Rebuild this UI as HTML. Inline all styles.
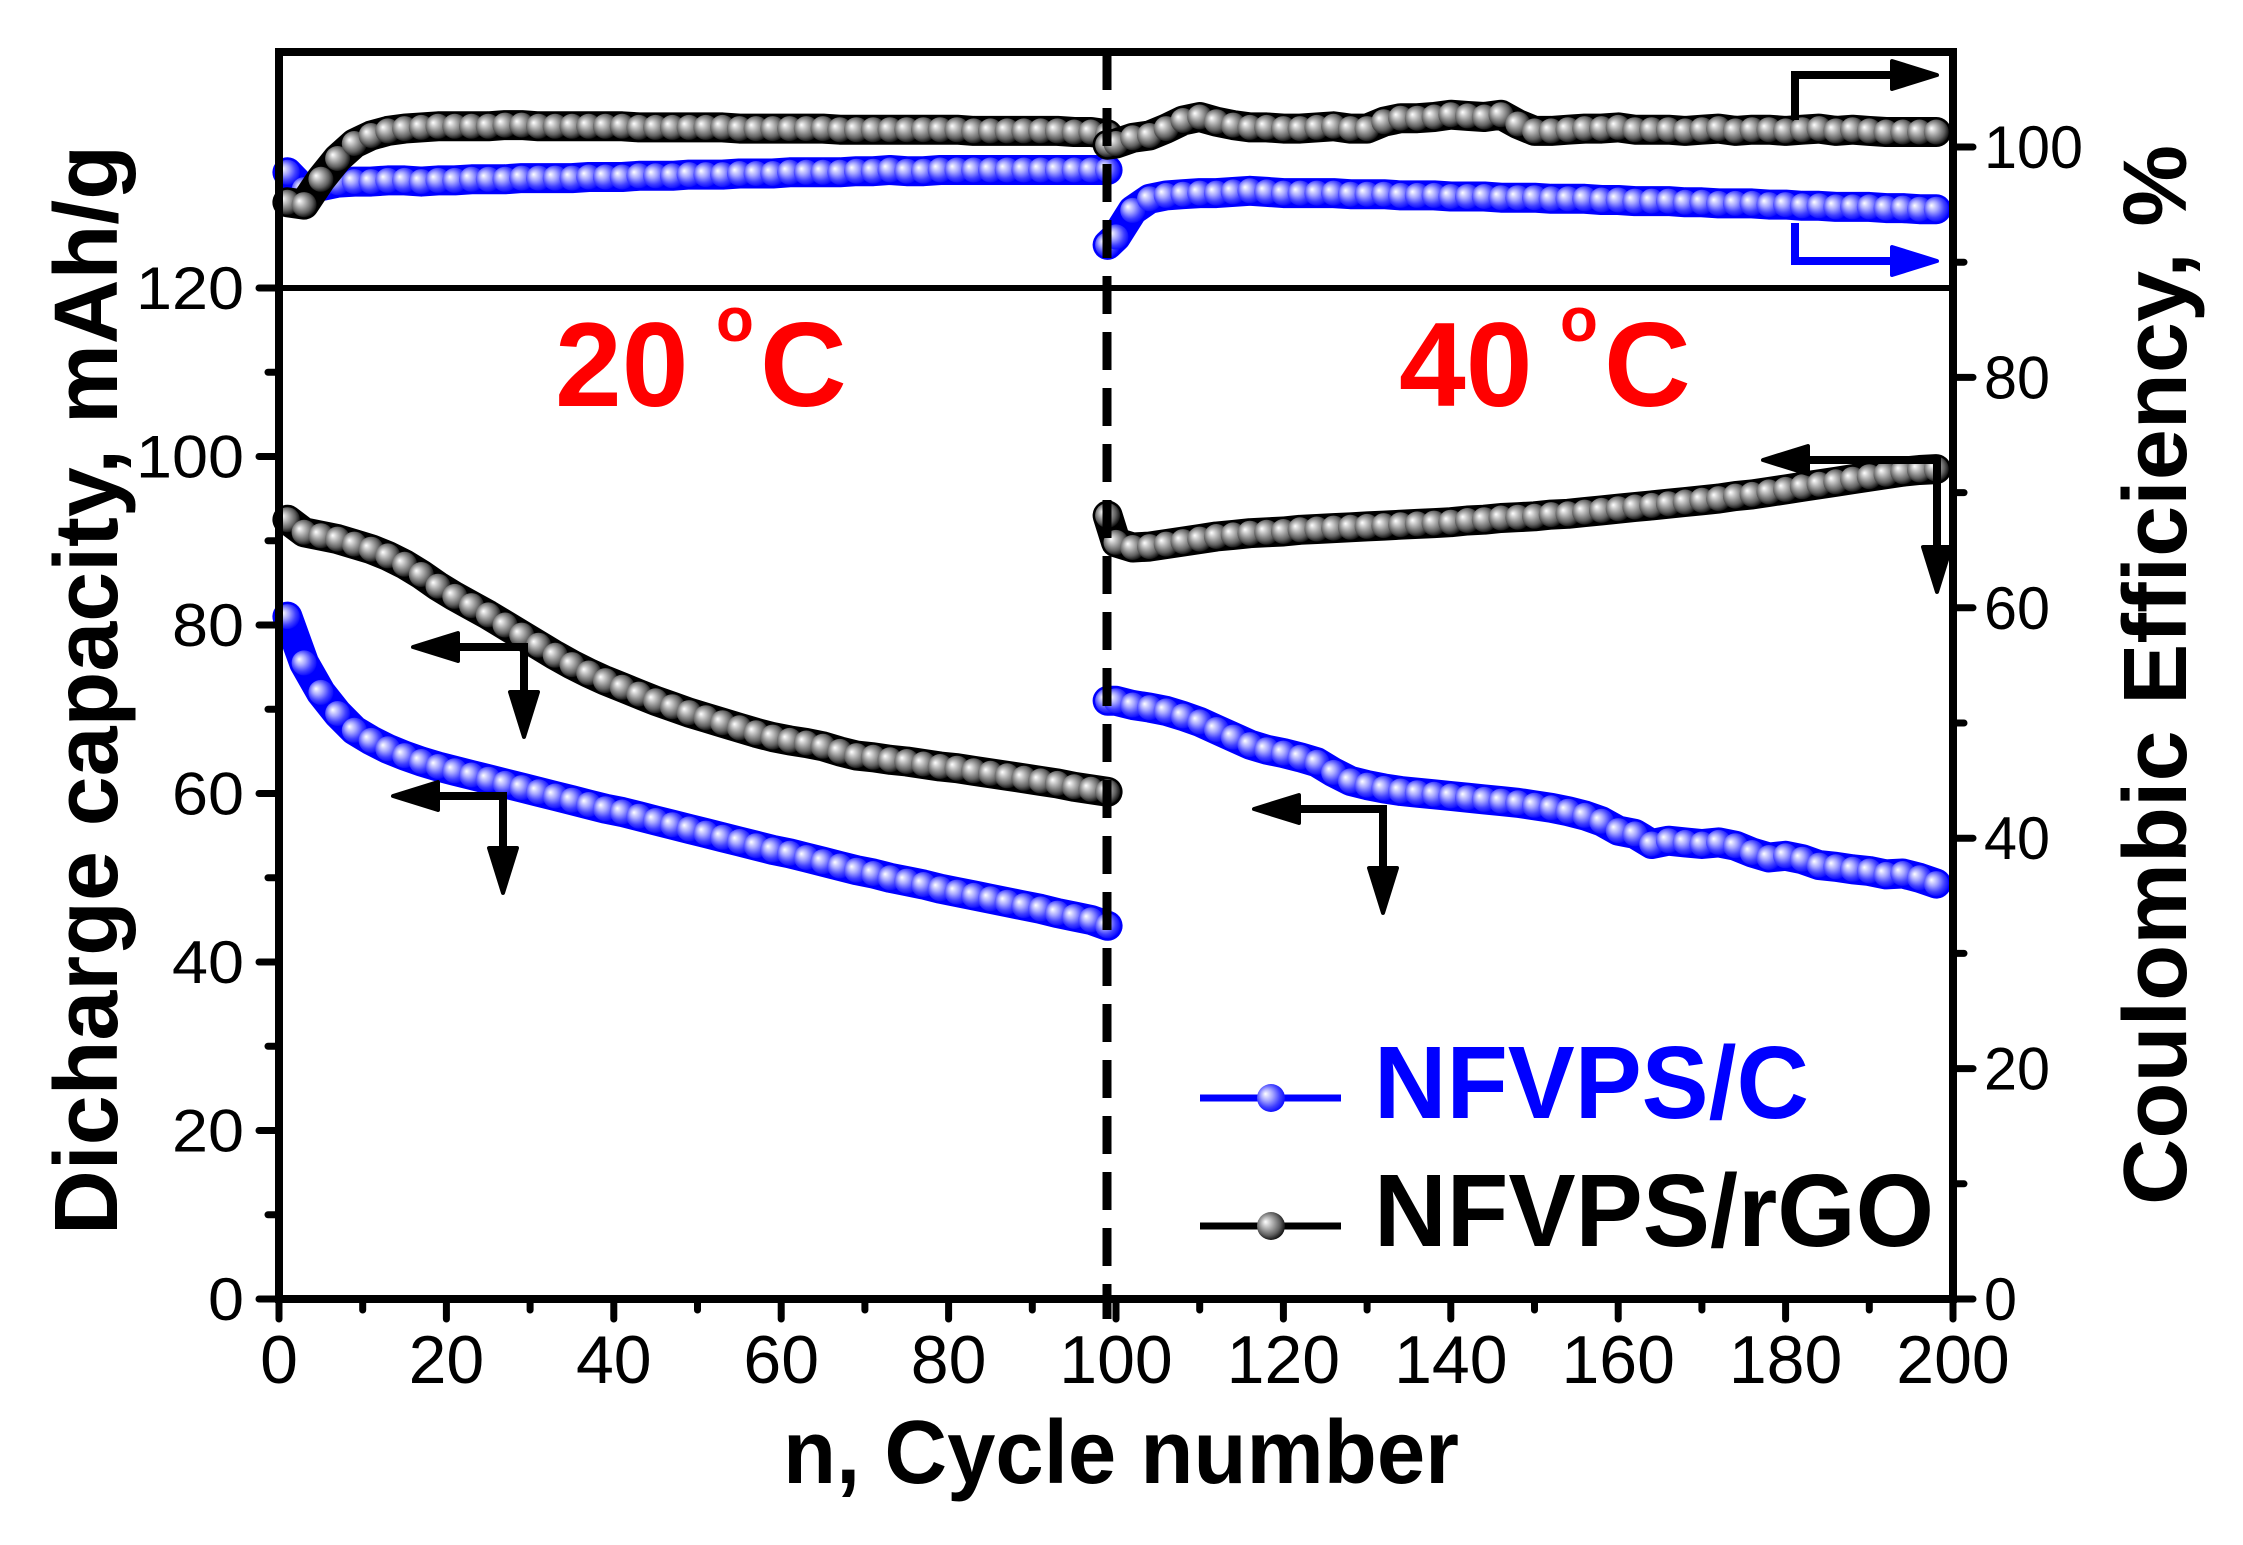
<!DOCTYPE html>
<html><head><meta charset="utf-8">
<style>
html,body{margin:0;padding:0;background:#fff;}
svg{display:block;}
text{font-family:"Liberation Sans",Arial,sans-serif;}
</style></head>
<body>
<svg id="chart" width="2243" height="1545" viewBox="0 0 2243 1545" xmlns="http://www.w3.org/2000/svg">
<defs>
  <radialGradient id="gBlk" cx="0.45" cy="0.45" r="0.6" fx="0.3" fy="0.35">
    <stop offset="0" stop-color="#ffffff"/>
    <stop offset="0.35" stop-color="#b0b0b0"/>
    <stop offset="0.7" stop-color="#606060"/>
    <stop offset="1" stop-color="#000000"/>
  </radialGradient>
  <radialGradient id="gBlu" cx="0.45" cy="0.45" r="0.6" fx="0.3" fy="0.35">
    <stop offset="0" stop-color="#ffffff"/>
    <stop offset="0.35" stop-color="#a8a8ff"/>
    <stop offset="0.7" stop-color="#4040ff"/>
    <stop offset="1" stop-color="#0000ff"/>
  </radialGradient>
</defs>
<g id="series"></g>
<g id="axes"></g>
<text x="555" y="406" font-size="120" font-weight="bold" fill="#ff0000">20</text>
<text x="716" y="341" font-size="62" font-weight="bold" fill="#ff0000">o</text>
<text x="760" y="406" font-size="120" font-weight="bold" fill="#ff0000">C</text>
<text x="1399" y="406" font-size="120" font-weight="bold" fill="#ff0000">40</text>
<text x="1560" y="341" font-size="62" font-weight="bold" fill="#ff0000">o</text>
<text x="1604" y="406" font-size="120" font-weight="bold" fill="#ff0000">C</text>
<text x="783" y="1483" font-size="90" font-weight="bold" textLength="676" lengthAdjust="spacingAndGlyphs">n, Cycle number</text>
<text transform="translate(117,1235) rotate(-90)" font-size="90" font-weight="bold" textLength="1090" lengthAdjust="spacingAndGlyphs">Dicharge capacity, mAh/g</text>
<text transform="translate(2186,1205) rotate(-90)" font-size="90" font-weight="bold" textLength="1060" lengthAdjust="spacingAndGlyphs">Coulombic Efficiency, %</text>
<g>
  <line x1="1200" y1="1098" x2="1341" y2="1098" stroke="#0000ff" stroke-width="7"/>
  <circle cx="1271" cy="1098" r="14" fill="url(#gBlu)"/>
  <text x="1374" y="1118" font-size="103" font-weight="bold" fill="#0000ff" textLength="435" lengthAdjust="spacingAndGlyphs">NFVPS/C</text>
  <line x1="1200" y1="1226" x2="1341" y2="1226" stroke="#000" stroke-width="7"/>
  <circle cx="1271" cy="1226" r="14" fill="url(#gBlk)"/>
  <text x="1374" y="1246" font-size="103" font-weight="bold" fill="#000" textLength="560" lengthAdjust="spacingAndGlyphs">NFVPS/rGO</text>
</g>
<g id="arrows"></g>
</svg>
<script>
// ---- data ----
const cycles20 = [1,3,5,7,9,11,13,15,17,19,21,23,25,27,29,31,33,35,37,39,41,43,45,47,49,51,53,55,57,59,61,63,65,67,69,71,73,75,77,79,81,83,85,87,89,91,93,95,97,99];
const cycles40 = [99,100,102,104,106,108,110,112,114,116,118,120,122,124,126,128,130,132,134,136,138,140,142,144,146,148,150,152,154,156,158,160,162,164,166,168,170,172,174,176,178,180,182,184,186,188,190,192,194,196,198];
const capC20 = [81,75.5,72,69.5,67.5,66.3,65.3,64.5,63.8,63.2,62.7,62.2,61.7,61.2,60.7,60.2,59.7,59.2,58.7,58.2,57.8,57.3,56.8,56.3,55.8,55.3,54.8,54.3,53.8,53.3,52.9,52.4,51.9,51.4,50.9,50.5,50.0,49.6,49.2,48.7,48.3,47.9,47.5,47.1,46.7,46.3,45.8,45.4,45.0,44.3];
const capR20 = [92.5,91,90.6,90.2,89.6,89,88.2,87.2,86,84.6,83.4,82.3,81.2,80,78.8,77.6,76.4,75.3,74.3,73.4,72.6,71.8,71,70.3,69.6,69,68.4,67.8,67.2,66.7,66.3,66,65.6,65,64.5,64.3,64,63.8,63.5,63.2,63,62.7,62.4,62.1,61.8,61.5,61.2,60.8,60.5,60.2];
const ceC20 = [97.8,96.3,96.6,96.9,97.0,97.0,97.1,97.1,97.0,97.1,97.1,97.2,97.2,97.2,97.3,97.3,97.3,97.3,97.4,97.4,97.4,97.5,97.5,97.5,97.6,97.6,97.6,97.7,97.7,97.7,97.8,97.8,97.8,97.8,97.9,97.9,98.0,97.9,97.9,98.0,98.0,98.0,98.0,98.0,98.0,98.0,98.0,98.0,98.0,98.0];
const ceR20 = [95.2,95.0,97.2,99.0,100.3,101.0,101.4,101.6,101.7,101.8,101.8,101.8,101.8,101.9,101.9,101.8,101.8,101.8,101.8,101.8,101.8,101.7,101.7,101.7,101.7,101.7,101.7,101.6,101.6,101.6,101.6,101.6,101.6,101.5,101.5,101.5,101.5,101.5,101.5,101.5,101.5,101.4,101.4,101.4,101.4,101.4,101.4,101.3,101.3,101.1];
const capC40 = [71,71,70.5,70.2,69.8,69.2,68.5,67.6,66.7,65.8,65.2,64.8,64.3,63.7,62.5,61.5,61,60.6,60.3,60.1,59.9,59.7,59.5,59.3,59.1,58.9,58.6,58.3,57.9,57.4,56.7,55.6,55.2,54,54.4,54.2,54,54.2,53.8,53,52.4,52.6,52.2,51.5,51.3,51,50.8,50.4,50.5,50,49.3];
const capR40 = [93,89.8,89.2,89.3,89.6,89.9,90.2,90.5,90.7,90.9,91,91.1,91.3,91.4,91.5,91.6,91.7,91.8,91.9,92,92.1,92.2,92.4,92.5,92.7,92.8,92.9,93.1,93.2,93.4,93.6,93.8,94,94.2,94.4,94.6,94.8,95,95.3,95.5,95.8,96.1,96.4,96.7,97,97.3,97.6,97.9,98.2,98.4,98.5];
const ceC40 = [91.5,92.2,94.5,95.5,95.8,95.9,96.0,96.0,96.1,96.2,96.1,96.0,96.0,96.0,96.0,95.9,95.9,95.9,95.8,95.8,95.8,95.7,95.7,95.7,95.6,95.6,95.6,95.5,95.5,95.5,95.4,95.4,95.3,95.3,95.3,95.2,95.2,95.1,95.1,95.1,95.0,95.0,94.9,94.9,94.8,94.8,94.8,94.7,94.7,94.6,94.6];
const ceR40 = [100.2,100.3,100.8,101.0,101.6,102.3,102.6,102.2,101.9,101.7,101.7,101.6,101.6,101.7,101.8,101.6,101.6,102.2,102.5,102.5,102.6,102.8,102.7,102.6,102.8,102.0,101.4,101.4,101.5,101.6,101.6,101.7,101.5,101.5,101.5,101.4,101.5,101.6,101.4,101.5,101.5,101.4,101.5,101.6,101.4,101.5,101.4,101.3,101.3,101.3,101.3];
const xTicks = [0,20,40,60,80,100,120,140,160,180,200];
const yLeftTicks = [0,20,40,60,80,100,120];
const yRightTicks = [0,20,40,60,80,100];

// ---- scales ----
const PL=279, PR=1953, PT=52, PB=1299, Y120=288;
const X = c => PL + c*(PR-PL)/200;
const YL = v => PB - v*(PB-Y120)/120;
const YR = v => PB - v*(PB-147)/100;
const NS='http://www.w3.org/2000/svg';
function mk(tag, attrs, parent){const e=document.createElementNS(NS,tag);for(const k in attrs)e.setAttribute(k,attrs[k]);parent.appendChild(e);return e;}
const S=document.getElementById('series');
const A=document.getElementById('axes');
const AR=document.getElementById('arrows');

function drawSeries(xs, ys, yf, color, grad, name){
  const g=mk('g',{},S);
  
  
  const pts=xs.map((c,i)=>X(c).toFixed(1)+','+yf(ys[i]).toFixed(1)).join(' ');
  const pl=mk('polyline',{points:pts,fill:'none',stroke:color,'stroke-width':30,'stroke-linejoin':'round','stroke-linecap':'round'},g);
  
  
  xs.forEach((c,i)=>{
    const m=mk('circle',{cx:X(c).toFixed(1),cy:yf(ys[i]).toFixed(1),r:12.5,fill:'url(#'+grad+')'},g);
    
    
  });
}
drawSeries(cycles20, ceC20, YR, '#0000ff', 'gBlu', 'ce-nfvps-c-20c');
drawSeries(cycles20, ceR20, YR, '#000', 'gBlk', 'ce-nfvps-rgo-20c');
drawSeries(cycles40, ceC40, YR, '#0000ff', 'gBlu', 'ce-nfvps-c-40c');
drawSeries(cycles40, ceR40, YR, '#000', 'gBlk', 'ce-nfvps-rgo-40c');
drawSeries(cycles20, capC20, YL, '#0000ff', 'gBlu', 'capacity-nfvps-c-20c');
drawSeries(cycles20, capR20, YL, '#000', 'gBlk', 'capacity-nfvps-rgo-20c');
drawSeries(cycles40, capC40, YL, '#0000ff', 'gBlu', 'capacity-nfvps-c-40c');
drawSeries(cycles40, capR40, YL, '#000', 'gBlk', 'capacity-nfvps-rgo-40c');

// axes frame
const frame=mk('rect',{x:PL,y:PT,width:PR-PL,height:PB-PT,fill:'none',stroke:'#000','stroke-width':8},A);


const div=mk('line',{x1:PL-20,y1:Y120,x2:PR,y2:Y120,stroke:'#000','stroke-width':6},A);


const dash=mk('line',{x1:1107,y1:PT,x2:1107,y2:PB+20,stroke:'#000','stroke-width':9,'stroke-dasharray':'38 18'},A);



// x ticks
for(let v=0; v<=200; v+=10){
  const major=v%20===0;
  const t=mk('line',{x1:X(v),y1:PB,x2:X(v),y2:PB+(major?20:11),stroke:'#000','stroke-width':7,'stroke-linecap':'round'},A);
  
  
}
xTicks.forEach(v=>{
  const t=mk('text',{x:X(v),y:1383,'font-size':68,'text-anchor':'middle'},A);
  t.textContent=v;
  
  
});
// left ticks
for(let v=0; v<=120; v+=10){
  const major=v%20===0;
  const t=mk('line',{x1:PL,y1:YL(v),x2:PL-(major?20:11),y2:YL(v),stroke:'#000','stroke-width':7,'stroke-linecap':'round'},A);
  
  
}
yLeftTicks.forEach(v=>{
  const s=String(v);
  const t=mk('text',{x:244,y:YL(v)+21,'font-size':60,'text-anchor':'end',textLength:36*s.length,lengthAdjust:'spacingAndGlyphs'},A);
  t.textContent=s;
  
  
});
// right ticks
for(let v=0; v<=100; v+=10){
  const major=v%20===0;
  const t=mk('line',{x1:PR,y1:YR(v),x2:PR+(major?20:11),y2:YR(v),stroke:'#000','stroke-width':7,'stroke-linecap':'round'},A);
  
  
}
yRightTicks.forEach(v=>{
  const s=String(v);
  const t=mk('text',{x:1984,y:YR(v)+21,'font-size':60,textLength:33*s.length,lengthAdjust:'spacingAndGlyphs'},A);
  t.textContent=s;
  
  
});

// arrows
function head(tx,ty,dir,color){
  let p;
  if(dir==='left') p=[[tx,ty],[tx+45,ty-14],[tx+45,ty+14]];
  else if(dir==='right') p=[[tx,ty],[tx-45,ty-14],[tx-45,ty+14]];
  else p=[[tx,ty],[tx-14,ty-45],[tx+14,ty-45]];
  const h=mk('polygon',{points:p.map(q=>q.join(',')).join(' '),fill:color,stroke:color,'stroke-width':4,'stroke-linejoin':'round'},AR);
  
  
}
function path(d,color,name){
  const p=mk('path',{d:d,fill:'none',stroke:color,'stroke-width':8},AR);
  
  
}
path('M455,647 H524 V700','#000','arrow-rgo-20c'); head(413,647,'left','#000'); head(524,737,'down','#000');
path('M435,796 H503 V855','#000','arrow-c-20c'); head(393,796,'left','#000'); head(503,893,'down','#000');
path('M1296,809 H1383 V875','#000','arrow-c-40c'); head(1254,809,'left','#000'); head(1383,913,'down','#000');
path('M1805,460 H1937 V555','#000','arrow-rgo-40c'); head(1763,460,'left','#000'); head(1937,592,'down','#000');
path('M1795,120 V75 H1895','#000','arrow-ce-rgo'); head(1937,75,'right','#000');
path('M1795,223 V261 H1895','#0000ff','arrow-ce-c'); head(1937,261,'right','#0000ff');
</script>
</body></html>
